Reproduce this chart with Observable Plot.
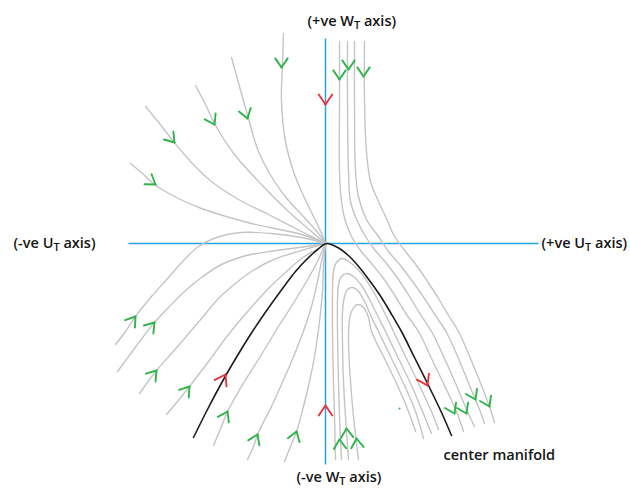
<!DOCTYPE html>
<html>
<head>
<meta charset="utf-8">
<script src="https://cdn.jsdelivr.net/npm/d3@7"></script>
<script src="https://cdn.jsdelivr.net/npm/@observablehq/plot@0.6"></script>
<style>
  body { margin: 0; background: #fff; }
</style>
</head>
<body>
<div id="chart"></div>
<script>
// Phase portrait near a non-hyperbolic equilibrium in the (U_T, W_T) plane.
// Every trajectory is a list of [u, w] points; the equilibrium sits at (0, 0).

// Trajectories in the upper-left quadrant, flowing into the equilibrium
const flowsUpperLeft = [
  [[-42,210],[-43,182],[-44,142],[-40,102],[-32,72],[-24,52],[-11,25],[-4,10],[0,0]],
  [[-94,186],[-86,157],[-77,125],[-67,92],[-51,62],[-37,43],[-24,29],[-7,10],[0,0]],
  [[-130,158],[-120,139],[-111,120],[-91,89],[-64,59],[-37,32],[-14,12],[0,0]],
  [[-180,137],[-166,120],[-152,102],[-134,81],[-114,62],[-87,44],[-57,29],[-26,13],[0,0]],
  [[-195,80],[-183,70],[-171,59],[-149,46],[-124,35],[-74,20],[-24,9],[0,0]]
];

// Trajectories coming up from the lower-left quadrant into the equilibrium
const flowsLowerLeft = [
  [[-210,-101],[-200,-88],[-190,-73],[-174,-53],[-157,-34],[-142,-17],[-127,-3],[-109,6],[-84,11],[-54,10],[-24,6],[0,0]],
  [[-208,-128],[-191,-105],[-172,-80],[-157,-64],[-141,-48],[-124,-34],[-104,-21],[-79,-12],[-49,-7],[-19,-3],[0,0]],
  [[-186,-150],[-169,-127],[-154,-110],[-141,-95],[-124,-75],[-107,-55],[-89,-39],[-74,-28],[-54,-17],[-34,-10],[-14,-4],[0,0]],
  [[-159,-171],[-148,-158],[-136,-143],[-117,-118],[-97,-91],[-77,-67],[-57,-45],[-39,-28],[-24,-15],[-9,-6],[0,0]],
  [[-112,-202],[-104,-183],[-98,-168],[-81,-138],[-64,-111],[-47,-83],[-31,-58],[-19,-38],[-8,-18],[0,0]],
  [[-78,-216],[-72,-203],[-68,-191],[-54,-163],[-44,-141],[-34,-118],[-24,-93],[-14,-63],[-8,-38],[-4,-18],[0,0]],
  [[-41,-218],[-35,-203],[-29,-188],[-22,-163],[-16,-138],[-11,-113],[-6,-78],[-3,-48],[-2,-23],[0,0]]
];

// Trajectories descending on the right of the W_T axis, bending along the manifold
const flowsUpperRight = [
  [[14,202],[14,142],[14,72],[16,42],[20,22],[26,7],[35,-7],[46,-20],[58,-35],[70,-53],[81,-71],[93,-88],[106,-115],[119,-142],[131,-168],[138,-188]],
  [[22,202],[22,142],[23,72],[25,42],[32,22],[40,7],[49,-6],[61,-20],[73,-36],[84,-53],[95,-71],[106,-88],[119,-115],[131,-142],[142,-168],[149,-183]],
  [[29,202],[29,142],[30,72],[33,47],[41,24],[53,7],[63,-8],[75,-22],[87,-38],[99,-55],[110,-72],[121,-89],[133,-115],[144,-142],[154,-166],[159,-180]],
  [[39,202],[39,142],[41,92],[45,62],[53,42],[61,25],[68,9],[80,-8],[91,-22],[102,-38],[113,-55],[123,-72],[133,-88],[145,-115],[156,-142],[165,-166],[169,-179]]
];

// Nested arcs below the manifold in the lower-right quadrant
const flowsLowerRight = [
  [[10,-216],[9,-173],[8,-138],[7,-88],[7,-48],[8,-28],[11,-19],[17,-15],[26,-20],[36,-30],[46,-45],[56,-63],[68,-88],[81,-115],[94,-142],[106,-168],[113,-186]],
  [[16,-216],[14,-173],[13,-138],[12,-88],[12,-58],[13,-41],[16,-33],[21,-30],[28,-33],[36,-42],[44,-56],[53,-74],[60,-88],[73,-115],[86,-142],[97,-168],[106,-190]],
  [[23,-216],[20,-173],[18,-138],[17,-98],[17,-68],[19,-53],[22,-46],[27,-44],[33,-48],[40,-60],[47,-76],[53,-88],[66,-115],[79,-142],[90,-168],[98,-195]],
  [[33,-216],[28,-173],[25,-138],[23,-98],[24,-76],[27,-66],[32,-61],[38,-64],[43,-74],[46,-88],[59,-115],[72,-142],[83,-168],[90,-188]]
];

// The center manifold through the equilibrium
const centerManifold = [
  [-132,-194],[-117,-164],[-102,-136],[-88,-112],[-75,-91],[-63,-73],[-51,-56],[-40,-41],[-30,-28],[-20,-17],[-12,-9.5],[-6,-4.5],[-2,-1.2],[2,0],
  [7,-1.5],[14,-5],[24,-13],[34,-24],[44,-37],[54,-51],[65,-69],[76,-88],[89,-114],[103,-142],[116,-169],[126,-192]
];

// Direction markers: [u, w, heading in degrees, counter-clockwise from +U_T]
const greenArrows = [
  [-44,176,-90],[-78,125,-73],[-111,119,-62],[-151,101,-50],[-170,59,-35],
  [14,164,-90],[23,174,-90],[38,167,-90],
  [-190,-73,53],[-171,-79,50],[-169,-127,51],[-136,-143,52],[-98,-168,63],[-68,-191,66],[-29,-188,72],
  [14,-196,93],[21,-185,94],[31,-195,96],
  [129,-170,-64],[141,-170,-64],[150,-156,-64],[164,-163,-64]
];
const redArrows = [
  [0,139,-90],[-100,-131,61],[0,-162,90],[102,-142,-63]
];

// Axis extents
const uAxis = [-197, 213];
const wAxis = [-221, 205];

// Label texts ("_" marks a subscript)
const axisLabels = ["(+ve W_T axis)", "(-ve U_T axis)", "(+ve U_T axis)", "(-ve W_T axis)"];
const manifoldLabel = "center manifold";

const toRows = (groups, tag) =>
  groups.flatMap((pts, i) => pts.map(([u, w]) => ({u, w, id: `${tag}${i}`})));

const greyRows = [
  ...toRows(flowsUpperLeft, "ul"),
  ...toRows(flowsLowerLeft, "ll"),
  ...toRows(flowsUpperRight, "ur"),
  ...toRows(flowsLowerRight, "lr")
];
const manifoldRows = toRows([centerManifold], "cm");

// Two strokes per chevron, from the tip back along the heading
function chevrons(list, len, spread) {
  const out = [];
  for (const [u, w, h] of list) {
    for (const s of [-spread, spread]) {
      const a = (h + 180 + s) * Math.PI / 180;
      out.push({u1: u, w1: w, u2: u + len * Math.cos(a), w2: w + len * Math.sin(a)});
    }
  }
  return out;
}

const axisLines = [
  {u1: uAxis[0], w1: 0, u2: uAxis[1], w2: 0},
  {u1: 0, w1: wAxis[0], u2: 0, w2: wAxis[1]}
];

const labelRows = [
  {u: -18, w: 222, text: axisLabels[0]},
  {u: -312, w: 0, text: axisLabels[1]},
  {u: 216, w: 0, text: axisLabels[2]},
  {u: -29, w: -234, text: axisLabels[3]},
  {u: 118, w: -212, text: manifoldLabel}
];

const chart = Plot.plot({
  width: 630,
  height: 488,
  margin: 0,
  x: {domain: [-325, 305], axis: null},
  y: {domain: [-245, 243], axis: null},
  style: {background: "#fff", fontFamily: "'Open Sans', sans-serif"},
  marks: [
    Plot.link(axisLines, {x1: "u1", y1: "w1", x2: "u2", y2: "w2", stroke: "#29a3e0", strokeWidth: 1.5}),
    Plot.line(greyRows, {x: "u", y: "w", z: "id", curve: "catmull-rom", stroke: "#c4c4c4", strokeWidth: 1.4}),
    Plot.line(manifoldRows, {x: "u", y: "w", curve: "catmull-rom", stroke: "#1c1c1c", strokeWidth: 1.6}),
    Plot.dot([[74,-165]], {x: d => d[0], y: d => d[1], r: 1, fill: "#2fb34a", stroke: null}),
    Plot.link(chevrons(greenArrows, 11, 34), {x1: "u1", y1: "w1", x2: "u2", y2: "w2", stroke: "#2fb34a", strokeWidth: 1.9, strokeLinecap: "round"}),
    Plot.link(chevrons(redArrows, 12, 34), {x1: "u1", y1: "w1", x2: "u2", y2: "w2", stroke: "#ec3338", strokeWidth: 1.9, strokeLinecap: "round"}),
    Plot.text(labelRows, {x: "u", y: "w", text: "text", textAnchor: "start", fontSize: 14.5, fontWeight: 600, fill: "#151515"})
  ]
});

// Render "X_T" as X with a lowered, smaller T
d3.select(chart).selectAll("text").each(function () {
  const s = this.textContent;
  const k = s.indexOf("_");
  if (k < 0) return;
  const el = d3.select(this);
  this.textContent = "";
  el.append("tspan").text(s.slice(0, k));
  el.append("tspan").attr("dy", 2.5).attr("font-size", 11).text(s[k + 1]);
  el.append("tspan").attr("dy", -2.5).text(s.slice(k + 2));
});

document.getElementById("chart").append(chart);
</script>
</body>
</html>
